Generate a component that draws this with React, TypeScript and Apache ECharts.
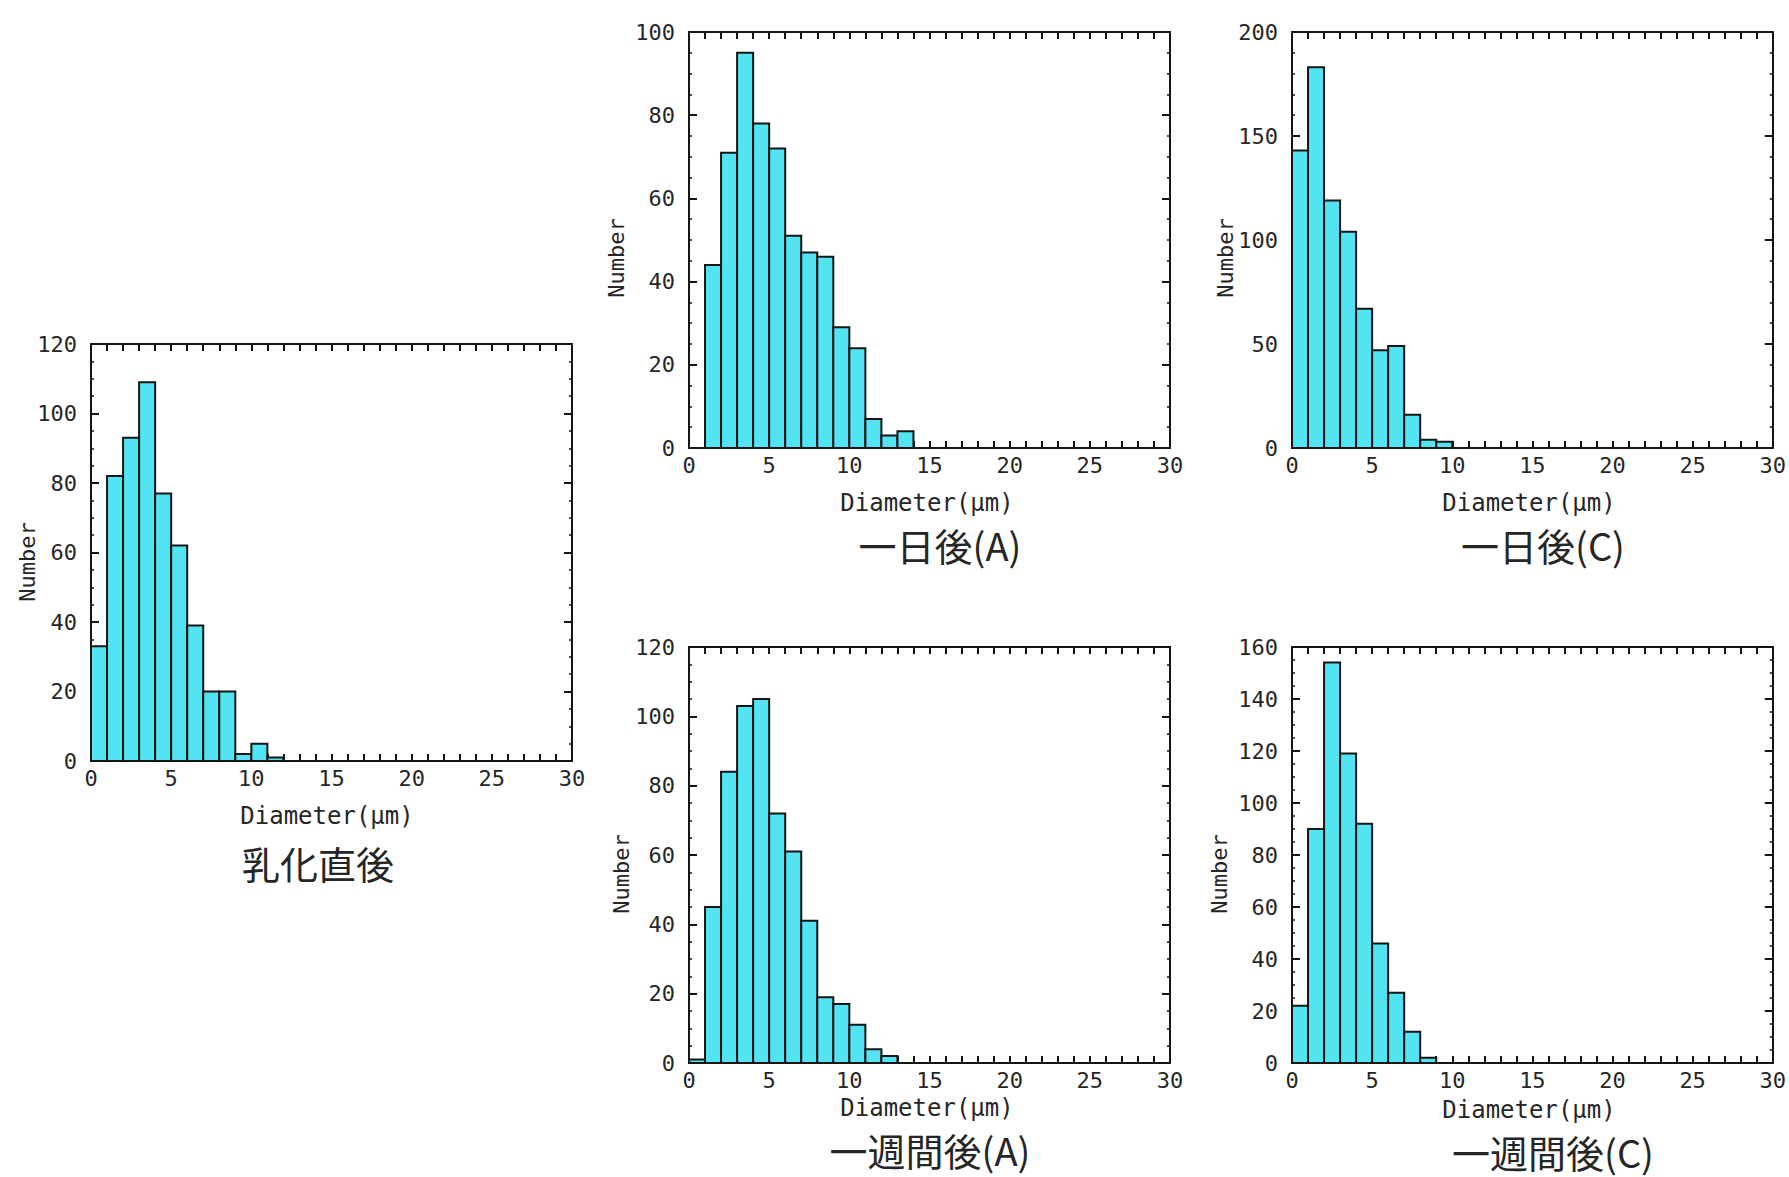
import React, { useEffect, useRef } from "react";
import * as echarts from "echarts";

// ---- data: counts per 1 µm bin, bin k covers [k, k+1) ----
const diameterTicks = [0, 5, 10, 15, 20, 25, 30];
const countsEmulsified = [33, 82, 93, 109, 77, 62, 39, 20, 20, 2, 5, 1];
const countsDayA = [0, 44, 71, 95, 78, 72, 51, 47, 46, 29, 24, 7, 3, 4];
const countsDayC = [143, 183, 119, 104, 67, 47, 49, 16, 4, 3];
const countsWeekA = [1, 45, 84, 103, 105, 72, 61, 41, 19, 17, 11, 4, 2];
const countsWeekC = [22, 90, 154, 119, 92, 46, 27, 12, 2];

const panelTitles = ["乳化直後", "一日後(A)", "一日後(C)", "一週間後(A)", "一週間後(C)"];
const panelCounts = [countsEmulsified, countsDayA, countsDayC, countsWeekA, countsWeekC];
const yMaxes = [120, 100, 200, 120, 160];
const yIntervals = [20, 20, 50, 20, 20];
const yMinorSplits = [4, 4, 5, 4, 4];
const xTitle = "Diameter(μm)";
const yTitle = "Number";

// ---- layout / style ----
const grids = [
  { left: 91, top: 344, width: 481, height: 417 },
  { left: 689, top: 32, width: 481, height: 416 },
  { left: 1292, top: 32, width: 481, height: 416 },
  { left: 689, top: 647, width: 481, height: 416 },
  { left: 1292, top: 647, width: 481, height: 416 },
];
const xTitlePos = [[327, 816], [927, 503], [1529, 503], [927, 1108], [1529, 1110]];
const yTitlePos = [[27, 562], [616, 258], [1225, 258], [621, 874], [1219, 874]];
const panelTitlePos = [[318, 862], [940, 544], [1543, 544], [930, 1149], [1553, 1151]];

const MONO = '"DejaVu Sans Mono", "Liberation Mono", monospace';
const CJK = '"Noto Sans CJK JP", "Noto Sans", sans-serif';
const BAR = "#52e4f2";
const INK = "#151515";
const TXT = "#262626";

function buildOption() {
  const xAxis: any[] = [];
  const yAxis: any[] = [];
  const series: any[] = [];
  const graphic: any[] = [];

  grids.forEach((g, i) => {
    const base = {
      gridIndex: i,
      type: "value",
      splitLine: { show: false },
      axisLine: { show: true, onZero: false, lineStyle: { color: INK, width: 2 } },
    };
    const xCommon = {
      ...base,
      min: diameterTicks[0],
      max: diameterTicks[diameterTicks.length - 1],
      interval: diameterTicks[1] - diameterTicks[0],
      axisTick: { show: true, inside: true, length: 7, lineStyle: { color: INK, width: 2 } },
      minorTick: { show: true, splitNumber: 5, length: 7, lineStyle: { color: INK, width: 2 } },
    };
    xAxis.push({
      ...xCommon,
      position: "bottom",
      axisLabel: { fontFamily: MONO, fontSize: 22, color: TXT, margin: 6 },
    });
    xAxis.push({ ...xCommon, position: "top", axisLabel: { show: false } });

    const yCommon = {
      ...base,
      min: 0,
      max: yMaxes[i],
      interval: yIntervals[i],
      axisTick: { show: true, inside: true, length: 8, lineStyle: { color: INK, width: 2 } },
      minorTick: { show: true, splitNumber: yMinorSplits[i], length: 3, lineStyle: { color: INK, width: 1.5 } },
    };
    yAxis.push({
      ...yCommon,
      position: "left",
      axisLabel: { fontFamily: MONO, fontSize: 22, color: TXT, margin: 14, padding: [0, 0, 8, 0] },
    });
    yAxis.push({ ...yCommon, position: "right", axisLabel: { show: false } });

    const data = panelCounts[i]
      .map((v, k) => [k, k + 1, v])
      .filter((d) => d[2] > 0);

    series.push({
      type: "custom",
      xAxisIndex: i * 2,
      yAxisIndex: i * 2,
      z: 5,
      encode: { x: [0, 1], y: 2 },
      data,
      renderItem: (params: any, api: any) => {
        const a = api.coord([api.value(0), 0]);
        const b = api.coord([api.value(1), api.value(2)]);
        return {
          type: "rect",
          shape: { x: a[0], y: b[1], width: b[0] - a[0], height: a[1] - b[1] },
          style: { fill: BAR, stroke: INK, lineWidth: 2 },
        };
      },
    });

    graphic.push({
      type: "text",
      x: xTitlePos[i][0],
      y: xTitlePos[i][1],
      style: {
        text: xTitle,
        fontFamily: MONO,
        fontSize: 24,
        fill: TXT,
        textAlign: "center",
        textVerticalAlign: "middle",
      },
    });
    graphic.push({
      type: "text",
      x: yTitlePos[i][0],
      y: yTitlePos[i][1],
      rotation: Math.PI / 2,
      style: {
        text: yTitle,
        fontFamily: MONO,
        fontSize: 22,
        fill: TXT,
        textAlign: "center",
        textVerticalAlign: "middle",
      },
    });
    graphic.push({
      type: "text",
      x: panelTitlePos[i][0],
      y: panelTitlePos[i][1],
      style: {
        text: panelTitles[i],
        fontFamily: CJK,
        fontSize: 38,
        fill: TXT,
        textAlign: "center",
        textVerticalAlign: "middle",
      },
    });
  });

  return {
    animation: false,
    backgroundColor: "#ffffff",
    grid: grids.map((g) => ({ ...g, containLabel: false })),
    xAxis,
    yAxis,
    series,
    graphic,
  };
}

export default function App() {
  const ref = useRef<HTMLDivElement>(null);
  useEffect(() => {
    if (!ref.current) return;
    const chart = echarts.init(ref.current, undefined, { renderer: "svg" });
    chart.setOption(buildOption() as any);
    return () => chart.dispose();
  }, []);
  return (
    <div
      ref={ref}
      style={{ position: "absolute", left: 0, top: 0, width: 1789, height: 1177, background: "#fff" }}
    />
  );
}
